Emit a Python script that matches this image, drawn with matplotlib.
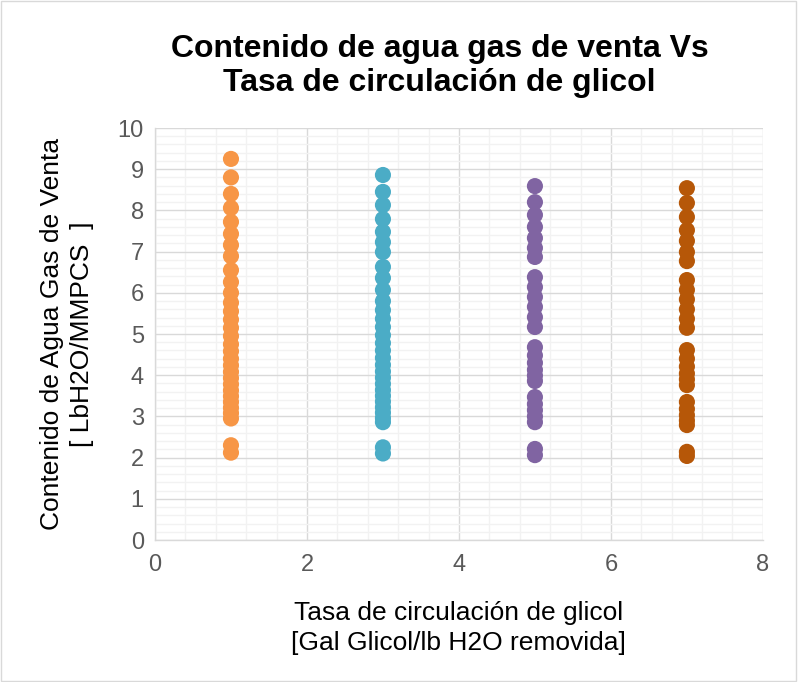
import matplotlib
matplotlib.use("Agg")
import matplotlib.pyplot as plt
from matplotlib.patches import Rectangle
from matplotlib.ticker import MultipleLocator

plt.rcParams['font.family'] = ['Liberation Sans', 'DejaVu Sans']

# Glycol circulation rates (gal glycol / lb H2O removed)
rates = [1, 3, 5, 7]
colors = ['#F79646', '#4BACC6', '#8064A2', '#B65708']

# Sales-gas water content (lb H2O / MMPCS) for each circulation rate
water_rate1 = [9.25, 8.80, 8.40, 8.06, 7.72, 7.43, 7.16, 6.89, 6.55, 6.26, 6.00,
               5.76, 5.55, 5.35, 5.15, 4.95, 4.75, 4.58, 4.40, 4.24, 4.08, 3.93,
               3.78, 3.63, 3.49, 3.35, 3.21, 3.08, 2.95, 2.30, 2.12]
water_rate3 = [8.86, 8.45, 8.13, 7.79, 7.48, 7.23, 6.99, 6.63, 6.36, 6.07, 5.80,
               5.58, 5.37, 5.17, 4.97, 4.78, 4.60, 4.42, 4.25, 4.09, 3.94, 3.79,
               3.64, 3.50, 3.36, 3.22, 3.09, 2.96, 2.86, 2.25, 2.10]
water_rate5 = [8.59, 8.20, 7.89, 7.60, 7.33, 7.09, 6.87, 6.38, 6.14, 5.90, 5.66,
               5.41, 5.17, 4.68, 4.48, 4.30, 4.13, 3.99, 3.86, 3.47, 3.30, 3.15,
               3.00, 2.86, 2.21, 2.06]
water_rate7 = [8.54, 8.18, 7.84, 7.52, 7.26, 6.99, 6.77, 6.31, 6.07, 5.84, 5.60,
               5.37, 5.15, 4.61, 4.40, 4.21, 4.04, 3.90, 3.76, 3.35, 3.18, 3.03,
               2.90, 2.79, 2.14, 2.04]
series = [water_rate1, water_rate3, water_rate5, water_rate7]

fig = plt.figure(figsize=(7.98, 6.82), dpi=100)
ax = fig.add_axes([0.1942, 0.2082, 0.7618, 0.6041])

for rate, ys, c in zip(rates, series, colors):
    ax.scatter([rate] * len(ys), ys, s=135, color=c, edgecolors='none', zorder=3)

ax.set_xlim(0, 8)
ax.set_ylim(0, 10)
ax.xaxis.set_major_locator(MultipleLocator(2))
ax.xaxis.set_minor_locator(MultipleLocator(0.4))
ax.yaxis.set_major_locator(MultipleLocator(1))
ax.yaxis.set_minor_locator(MultipleLocator(0.2))
ax.grid(which='major', color='#D9D9D9', linewidth=1.0, zorder=1)
ax.grid(which='minor', color='#F2F2F2', linewidth=1.0, zorder=0)
ax.set_axisbelow(True)
for side in ['top', 'right']:
    ax.spines[side].set_visible(False)
for side in ['left', 'bottom']:
    ax.spines[side].set_color('#D9D9D9')
    ax.spines[side].set_linewidth(1.0)
ax.tick_params(which='both', length=0, labelsize=17, labelcolor='#595959')
ax.tick_params(axis='x', pad=10)
ax.tick_params(axis='y', pad=8)

ax.set_xlabel('Tasa de circulación de glicol\n[Gal Glicol/lb H2O removida]',
              fontsize=19, labelpad=18, linespacing=1.3)
ax.set_ylabel('Contenido de Agua Gas de Venta\n[ LbH2O/MMPCS  ]',
              fontsize=19, labelpad=17, linespacing=1.3)

fig.text(0.551, 0.903, 'Contenido de agua gas de venta Vs\nTasa de circulación de glicol',
         ha='center', va='center', fontsize=23, fontweight='bold', linespacing=1.2)

fig.patches.append(Rectangle((0.001, 0.001), 0.997, 0.997, transform=fig.transFigure,
                             fill=False, edgecolor='#D9D9D9', linewidth=1.0))

fig.savefig('out.png', dpi=100)
